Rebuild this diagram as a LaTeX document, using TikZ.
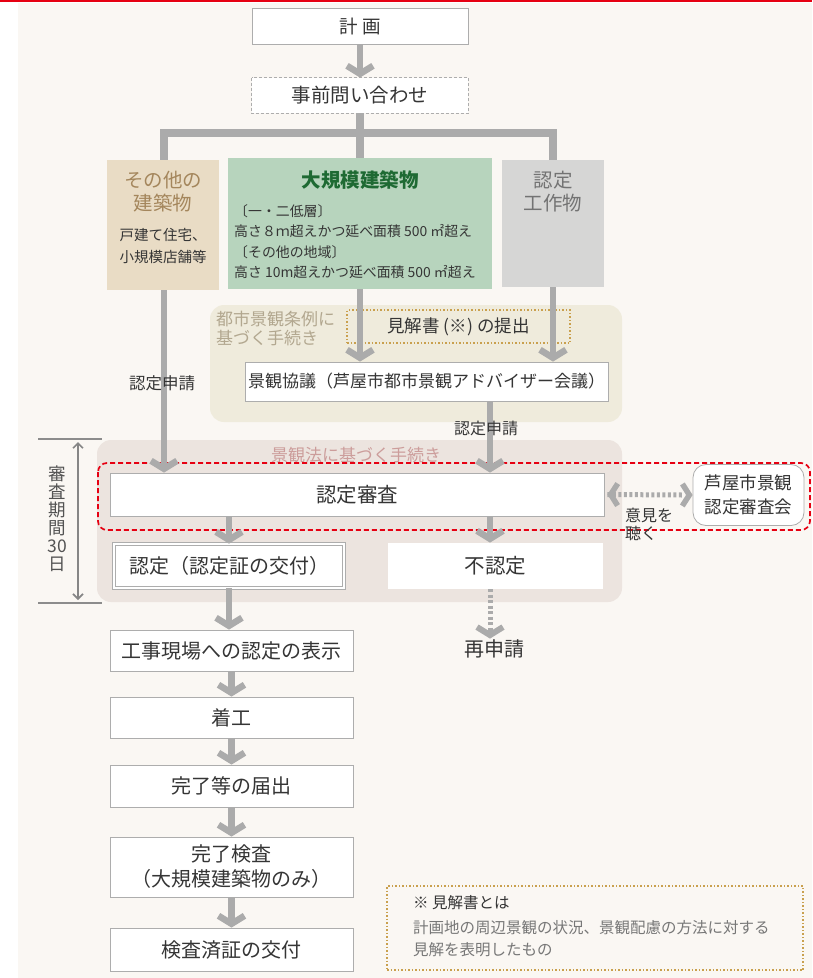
\documentclass[tikz,border=0pt]{standalone}
\usepackage{fontspec}
\setmainfont{Noto Sans CJK JP}
\usetikzlibrary{arrows.meta}
\definecolor{bgc}{HTML}{FAF7F3}
\definecolor{agray}{HTML}{ABABAB}
\definecolor{bord}{HTML}{ADADAD}
\definecolor{txt}{HTML}{353535}
\definecolor{tanfill}{HTML}{E9DCC5}
\definecolor{tantxt}{HTML}{A4865C}
\definecolor{grnfill}{HTML}{B7D4BD}
\definecolor{grntxt}{HTML}{1E6A33}
\definecolor{gryfill}{HTML}{D6D6D5}
\definecolor{grytxt}{HTML}{737373}
\definecolor{ordfill}{HTML}{EFEBDC}
\definecolor{ordtxt}{HTML}{B2A78F}
\definecolor{dotc}{HTML}{C9A04E}
\definecolor{lawfill}{HTML}{ECE4DF}
\definecolor{lawtxt}{HTML}{CC9D9B}
\definecolor{redd}{HTML}{E60012}
\definecolor{notetxt}{HTML}{777777}
\newcommand\fs[2]{\fontsize{#1}{#2}\selectfont}
\pgfdeclarelayer{bg}
\pgfsetlayers{bg,main}
\begin{document}
\begin{tikzpicture}[x=1pt,y=-1pt,
  box/.style={draw=bord, line width=0.8pt, fill=white, text=txt, inner sep=0pt, align=center},
  lbl/.style={inner sep=0pt, text=txt, align=center},
  flow/.style={draw=agray, line width=6.5pt, -{Straight Barb[length=8pt,width=26pt,line width=6.5pt]}},
  bar/.style={draw=agray, line width=7.5pt},
  dflow/.style={draw=agray, line width=5pt, dash pattern=on 3pt off 2.5pt},
  panel/.style={rounded corners=14pt, draw=none},
  dotbox/.style={draw=dotc, line width=1.3pt, dash pattern=on 1.5pt off 2pt, fill=none, inner sep=0pt}
]
\useasboundingbox (0,0) rectangle (812,978);
\begin{pgfonlayer}{bg}
\fill[white] (0,0) rectangle (812,978);
\fill[bgc] (18,3) rectangle (812,978);
\draw[redd, line width=2.5pt] (0,1) -- (812,1);
\fill[panel, ordfill] (210,305) rectangle (622,422);
\fill[panel, lawfill] (97,440) rectangle (622,602);
\end{pgfonlayer}

% top
\node[box, minimum width=216pt, minimum height=36pt, font=\fs{18.5}{22}] (plan) at (360,26) {計\hspace{5pt}画};
\node[box, draw=none, minimum width=216pt, minimum height=35pt, font=\fs{19.5}{22}] (pre) at (360,95.5) {事前問い合わせ};
\draw[bord, line width=0.9pt, dash pattern=on 3pt off 2pt] (pre.north west) rectangle (pre.south east);

% three categories
\node[box, draw=none, fill=tanfill, minimum width=112pt, minimum height=130pt] (other) at (163,225) {};
\node[lbl, text=tantxt, font=\fs{19.5}{23}] (otherT) at (163,191.5) {その他の\\建築物};
\node[lbl, font=\fs{14.5}{22}] (otherS) at (163,246) {戸建て住宅、\\小規模店舗等};

\node[box, draw=none, fill=grnfill, minimum width=264pt, minimum height=131pt] (green) at (360,223.5) {};
\node[lbl, text=grntxt, font=\bfseries\fs{19.5}{23}] (greenT) at (360,180) {大規模建築物};
\node[lbl, align=left, anchor=west, font=\fs{13.9}{20.5}] (greenS) at (234,241.5) {〔一・二低層〕\\高さ８ｍ超えかつ延べ面積 500 ㎡超え\\〔その他の地域〕\\高さ 10m超えかつ延べ面積 500 ㎡超え};

\node[box, draw=none, fill=gryfill, minimum width=102pt, minimum height=127pt] (kosaku) at (553,223.5) {};
\node[lbl, text=grytxt, font=\fs{19.5}{23}] (kosakuT) at (553,191.5) {認定\\工作物};

% ordinance procedure
\node[lbl, text=ordtxt, align=left, anchor=west, font=\fs{17}{19}] (ordT) at (216,328) {都市景観条例に\\基づく手続き};
\node[dotbox, minimum width=223pt, minimum height=33pt, text=txt, font=\fs{17.5}{20}] (opinion) at (458.5,326.5) {見解書 (※) の提出};
\node[box, minimum width=363pt, minimum height=39pt, font=\fs{17}{20}] (kyogi) at (426.5,381.5) {景観協議（芦屋市都市景観アドバイザー会議）};

% landscape law procedure
\node[lbl, text=lawtxt, font=\fs{17}{20}] (lawT) at (356,455) {景観法に基づく手続き};
\node[box, minimum width=494pt, minimum height=43pt, font=\fs{20.5}{22}] (shinsa) at (357,494.5) {認定審査};
\node[box, double=white, double distance=2.6pt, line width=0.7pt, minimum width=230pt, minimum height=44pt, font=\fs{20}{22}] (nintei) at (229,566) {認定（認定証の交付）};
\node[box, draw=none, minimum width=215pt, minimum height=46pt, font=\fs{20.5}{22}] (funintei) at (495.5,566) {不認定};
\node[box, rounded corners=13pt, minimum width=111pt, minimum height=61pt, font=\fs{17.5}{24}] (kai) at (748.5,495) {芦屋市景観\\認定審査会};
\node[lbl, text=txt, inner sep=1pt, font=\fs{20}{22}] (saishin) at (494,649) {再申請};

\draw[redd, line width=1.7pt, dash pattern=on 5pt off 3pt, rounded corners=9pt] (98,463) rectangle (810,530);

% review period
\node[lbl, text=txt!85, font=\fs{17.5}{18}] (period) at (57.5,518.5) {審\\査\\期\\間\\30\\日};
\coordinate (pt) at (78,442);
\coordinate (pb) at (78,600);
\coordinate (tla) at (38,439);
\coordinate (tlb) at (102,439);
\coordinate (bla) at (38,603);
\coordinate (blb) at (102,603);
\draw[gray!90, line width=1.2pt] (tla) -- (tlb);
\draw[gray!90, line width=1.2pt] (bla) -- (blb);
\draw[gray!95, line width=1.8pt, {Straight Barb[length=5pt,width=10pt,line width=1.6pt]}-{Straight Barb[length=5pt,width=10pt,line width=1.6pt]}] (pt) -- (pb);

% lower column
\node[box, minimum width=243pt, minimum height=41pt, font=\fs{20}{22}] (kouji) at (231.5,650.5) {工事現場への認定の表示};
\node[box, minimum width=243pt, minimum height=41pt, font=\fs{20}{22}] (chakko) at (231.5,717.5) {着工};
\node[box, minimum width=243pt, minimum height=42pt, font=\fs{20}{22}] (kanryo) at (231.5,786) {完了等の届出};
\node[box, minimum width=243pt, minimum height=60pt, font=\fs{20}{25}] (kensa) at (231.5,867) {完了検査\\（大規模建築物のみ）};
\node[box, minimum width=243pt, minimum height=43pt, font=\fs{20}{22}] (zumi) at (231.5,949.5) {検査済証の交付};

% note
\node[dotbox, minimum width=416pt, minimum height=84pt] (note) at (595,928) {};
\node[lbl, anchor=west, text=txt, font=\fs{15.5}{18}] (noteT) at (413,903) {※ 見解書とは};
\node[lbl, anchor=west, align=left, text=notetxt, font=\fs{15.5}{22}] (noteB) at (413,939) {計画地の周辺景観の状況、景観配慮の方法に対する\\見解を表明したもの};

% connectors
\coordinate (jc) at (360,133);
\coordinate (jl) at (164,133);
\coordinate (jr) at (553,133);
\coordinate (xr) at (490,0);
\draw[flow] (plan.south) -- (pre.north);
\draw[bar] (pre.south) -- (jc);
\draw[bar, line cap=rect] (jl) -- (jr);
\draw[bar] (jl) -- (jl |- other.north);
\draw[bar] (jc) -- (green.north);
\draw[bar] (jr) -- (kosaku.north);
\draw[flow] (other.south -| jl) -- (jl |- shinsa.north);
\draw[flow] (green.south) -- (green.south |- kyogi.north);
\draw[flow] (kosaku.south) -- (kosaku.south |- kyogi.north);
\draw[flow] (kyogi.south -| xr) -- (shinsa.north -| xr);
\draw[flow] (shinsa.south -| nintei.north) -- (nintei.north);
\draw[flow] (shinsa.south -| xr) -- (funintei.north -| xr);
\draw[dflow] (funintei.south -| xr) -- ([yshift=8pt]saishin.north -| xr);
\draw[draw=agray, line width=6pt, -{Straight Barb[length=8pt,width=26pt,line width=6pt]}] ([yshift=9pt]saishin.north -| xr) -- (saishin.north -| xr);
\draw[dflow, shorten <=3pt] (shinsa.east) -- ([xshift=-10pt]kai.west);
\draw[draw=agray, line width=5pt, {Straight Barb[length=7pt,width=22pt,line width=5.5pt]}-{Straight Barb[length=7pt,width=22pt,line width=5.5pt]}, dash pattern=on 0pt off 200pt] ([xshift=3pt]shinsa.east) -- (kai.west);
\draw[flow] (nintei.south) -- (nintei.south |- kouji.north);
\draw[flow] (kouji.south) -- (chakko.north);
\draw[flow] (chakko.south) -- (kanryo.north);
\draw[flow] (kanryo.south) -- (kensa.north);
\draw[flow] (kensa.south) -- (zumi.north);

% labels over connectors
\node[lbl, font=\fs{16.5}{18}] (reqL) at (162,383) {認定申請};
\node[lbl, font=\fs{16}{18}] (reqR) at (486,428) {認定申請};
\node[lbl, align=left, anchor=west, font=\fs{16}{18}] (iken) at (625,524) {意見を\\聴く};
\end{tikzpicture}
\end{document}
